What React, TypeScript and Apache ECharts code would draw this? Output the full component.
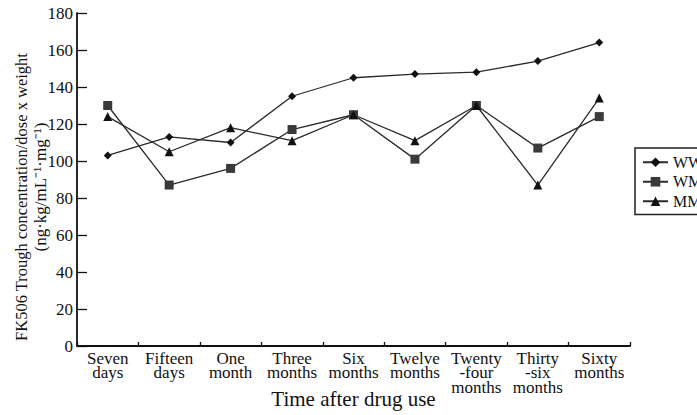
import React, { useEffect, useRef } from "react";
import * as echarts from "echarts";

const categories = [
  "Seven\ndays",
  "Fifteen\ndays",
  "One\nmonth",
  "Three\nmonths",
  "Six\nmonths",
  "Twelve\nmonths",
  "Twenty\n-four\nmonths",
  "Thirty\n-six\nmonths",
  "Sixty\nmonths",
];
const wwValues = [103, 113, 110, 135, 145, 147, 148, 154, 164];
const wmValues = [130, 87, 96, 117, 125, 101, 130, 107, 124];
const mmValues = [124, 105, 118, 111, 125, 111, 130, 87, 134];
const seriesNames = ["WW", "WM", "MM"];

const SERIF = "'Liberation Serif', 'Times New Roman', serif";

export default function App() {
  const ref = useRef<HTMLDivElement>(null);
  useEffect(() => {
    if (!ref.current) return;
    const chart = echarts.init(ref.current, null, { renderer: "svg" });
    const lineStyle = { color: "#2a2a2a", width: 1.3 };
    chart.setOption({
      animation: false,
      backgroundColor: "#ffffff",
      textStyle: { fontFamily: SERIF },
      grid: {
        left: 77,
        right: 67,
        top: 13,
        bottom: 69,
        containLabel: false,
        outerBoundsMode: "none",
      },
      legend: {
        orient: "vertical",
        left: 635,
        top: 148,
        data: seriesNames,
        borderColor: "#222",
        borderWidth: 1.5,
        borderRadius: 0,
        padding: [6, 4, 5, 7],
        itemGap: 3,
        itemWidth: 25,
        itemHeight: 12,
        textStyle: { fontFamily: SERIF, fontSize: 16, lineHeight: 16.5, color: "#111" },
      },
      xAxis: {
        type: "category",
        data: categories,
        boundaryGap: true,
        name: "Time after drug use",
        nameLocation: "middle",
        nameGap: 42,
        nameMoveOverlap: false,
        nameTextStyle: { fontFamily: SERIF, fontSize: 21, color: "#111", verticalAlign: "top" },
        axisLine: { lineStyle: { color: "#111", width: 1.8 } },
        axisTick: { show: true, inside: true, length: 4, lineStyle: { color: "#111", width: 1.3 } },
        axisLabel: {
          interval: 0,
          margin: 5,
          fontFamily: SERIF,
          fontSize: 17,
          lineHeight: 14.5,
          color: "#111",
        },
        splitLine: { show: false },
      },
      yAxis: {
        type: "value",
        min: 0,
        max: 180,
        interval: 20,
        axisLine: { show: true, lineStyle: { color: "#111", width: 1.8 } },
        axisTick: { show: true, inside: true, length: 10, lineStyle: { color: "#111", width: 1.3 } },
        axisLabel: { margin: 4, fontFamily: SERIF, fontSize: 17, color: "#111" },
        splitLine: { show: false },
      },
      graphic: [
        {
          type: "text",
          x: 21,
          y: 197,
          rotation: Math.PI / 2,
          style: {
            text: "FK506 Trough concentration/dose x weight",
            fontFamily: SERIF,
            fontSize: 16.5,
            fill: "#111",
            align: "center",
            verticalAlign: "middle",
          },
        },
        {
          type: "text",
          x: 40,
          y: 187,
          rotation: Math.PI / 2,
          style: {
            text: "(ng·kg/mL⁻¹·mg⁻¹)",
            fontFamily: SERIF,
            fontSize: 17,
            fill: "#111",
            align: "center",
            verticalAlign: "middle",
          },
        },
      ],
      series: [
        {
          name: "WW",
          type: "line",
          data: wwValues,
          symbol: "diamond",
          symbolSize: 8,
          itemStyle: { color: "#111" },
          lineStyle,
        },
        {
          name: "WM",
          type: "line",
          data: wmValues,
          symbol: "rect",
          symbolSize: 9,
          itemStyle: { color: "#3a3a3a" },
          lineStyle,
        },
        {
          name: "MM",
          type: "line",
          data: mmValues,
          symbol: "triangle",
          symbolSize: 9,
          itemStyle: { color: "#111" },
          lineStyle,
        },
      ],
    });
    return () => chart.dispose();
  }, []);
  return <div ref={ref} style={{ width: 697, height: 415, position: "absolute", left: 0, top: 0 }} />;
}
